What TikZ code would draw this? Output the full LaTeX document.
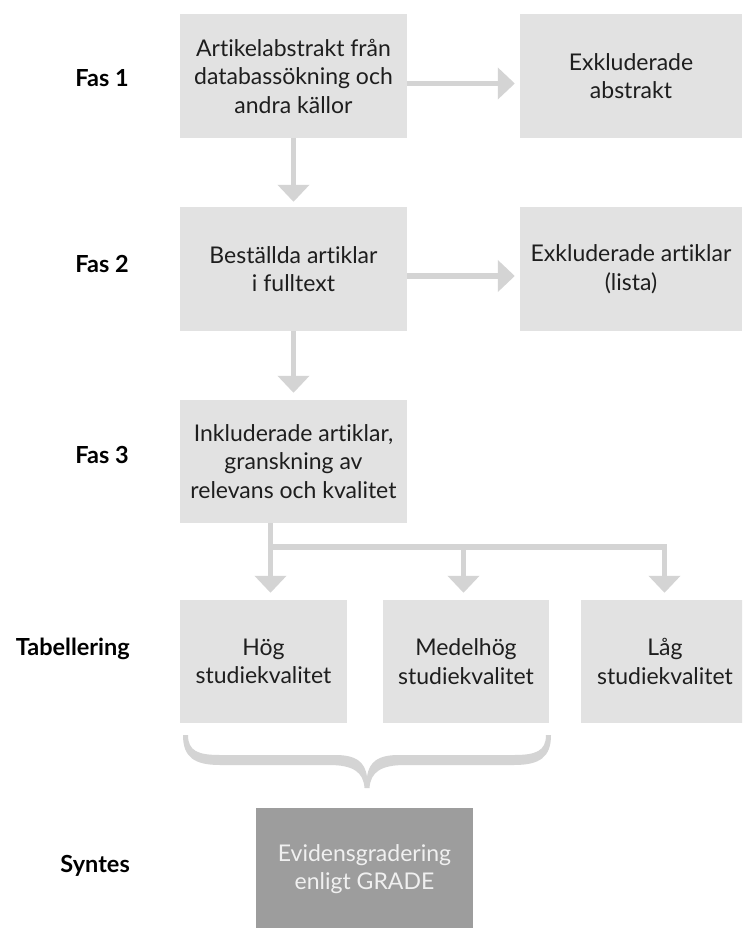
\documentclass[tikz,border=0pt]{standalone}
\usepackage{fontspec}
\setmainfont{Lato}[Ligatures={NoCommon}]
\usetikzlibrary{arrows.meta,calc}
\definecolor{boxgray}{HTML}{E2E2E2}
\definecolor{arrowgray}{HTML}{D4D4D4}
\definecolor{darkbox}{HTML}{9D9D9D}
\definecolor{darktext}{HTML}{F0F0F0}
\definecolor{ink}{HTML}{1E1E1E}
\tikzset{
  stagebox/.style={rectangle, fill=boxgray, draw=none, inner sep=0pt, align=center,
    text=ink, font=\fontsize{23}{28.5}\selectfont},
  synthbox/.style={stagebox, fill=darkbox, text=darktext},
  phase/.style={anchor=base east, inner sep=0pt, text=black,
    font=\fontsize{23.5}{27}\selectfont\bfseries},
  flow/.style={draw=arrowgray, line width=5.5pt,
    -{Triangle[length=17pt,width=31pt]}},
  bar/.style={draw=arrowgray, line width=5.5pt, line cap=rect},
}
\begin{document}
\begin{tikzpicture}[x=1pt,y=-1pt]
  \useasboundingbox (0,0) rectangle (742,928);
  \clip (0,0) rectangle (742,928);
  \fill[white] (0,0) rectangle (742,928);

  % stage boxes
  \node[stagebox, minimum width=227pt, minimum height=124pt] (A) at (293.5,76)
    {Artikelabstrakt från\\databassökning och\\andra källor};
  \node[stagebox, minimum width=222pt, minimum height=124pt] (B) at (631,76)
    {Exkluderade\\abstrakt};
  \node[stagebox, minimum width=227pt, minimum height=124pt] (C) at (293.5,269)
    {Beställda artiklar\\i fulltext};
  \node[stagebox, minimum width=222pt, minimum height=124pt] (D) at (631,269)
    {Exkluderade artiklar\\(lista)};
  \node[stagebox, minimum width=227pt, minimum height=123pt] (E) at (293.5,461.5)
    {Inkluderade artiklar,\\granskning av\\relevans och kvalitet};
  \node[stagebox, minimum width=167pt, minimum height=123pt] (T1) at (263.5,661.5)
    {Hög\\studiekvalitet};
  \node[stagebox, minimum width=166pt, minimum height=123pt] (T2) at (466,661.5)
    {Medelhög\\studiekvalitet};
  \node[stagebox, minimum width=168pt, minimum height=123pt] (T3) at (665,661.5)
    {Låg\\studiekvalitet};
  \node[synthbox, minimum width=217pt, minimum height=122pt] (S) at (364.5,869)
    {Evidensgradering\\enligt GRADE};

  % phase labels
  \node[phase] (L1) at (129,87) {Fas 1};
  \node[phase] (L2) at (129,272) {Fas 2};
  \node[phase] (L3) at (129,463) {Fas 3};
  \node[phase] (L4) at (130,655) {Tabellering};
  \node[phase] (L5) at (130,872) {Syntes};

  % main flow
  \draw[flow, shorten >=5pt] ([yshift=-7.5pt]A.east) -- ([yshift=-7.5pt]B.west);
  \draw[flow, shorten >=5pt] ([yshift=-7pt]C.east) -- ([yshift=-7pt]D.west);
  \draw[flow, shorten >=5pt] (A.south) -- (C.north);
  \draw[flow, shorten >=7pt] (C.south) -- (E.north);

  % split into quality groups
  \coordinate (j1) at (270.5,547);
  \coordinate (j2) at (463.5,547);
  \coordinate (j3) at (664.5,547);
  \draw[bar] (j1) -- (j3);
  \draw[flow, shorten >=7pt] (E.south -| j1) -- (j1 |- T1.north);
  \draw[flow, shorten >=7pt] (j2) -- (j2 |- T2.north);
  \draw[flow, shorten >=7pt] (j3) -- (j3 |- T3.north);

  % curly brace joining high and medium quality
  \fill[arrowgray]
    (188,735) .. controls (188,751) and (198,755) .. (220,755)
    -- (335,755) .. controls (355,755) and (365,761) .. (367,777)
    .. controls (369,761) and (379,755) .. (399,755)
    -- (514,755) .. controls (536,755) and (546,751) .. (546,735)
    -- (551,735) .. controls (551,757) and (540,765) .. (514,765)
    -- (405,765) .. controls (381,765) and (370.5,772) .. (369.5,788)
    -- (364.5,788) .. controls (363.5,772) and (353,765) .. (329,765)
    -- (220,765) .. controls (194,765) and (183,757) .. (183,735)
    -- cycle;
\end{tikzpicture}
\end{document}
